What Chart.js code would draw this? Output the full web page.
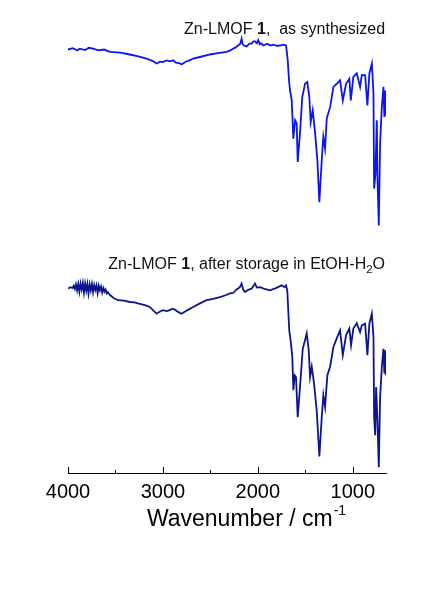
<!DOCTYPE html>
<html>
<head>
<meta charset="utf-8">
<script src="https://cdn.jsdelivr.net/npm/chart.js@4"></script>
<style>
  html, body { margin: 0; padding: 0; background: #fff; }
  canvas { display: block; }
</style>
</head>
<body>
<canvas id="irChart" width="422" height="599"></canvas>
<script>
// FTIR spectra of Zn-LMOF 1, transmittance in arbitrary units (offset traces)
const synthWn = [4000, 3950, 3900, 3877, 3820, 3780, 3736, 3680, 3620, 3560, 3450, 3349, 3260, 3173, 3110, 3067, 3030, 3001, 2960, 2928, 2890, 2864, 2830, 2804, 2760, 2720, 2681, 2600, 2505, 2420, 2329, 2290, 2259, 2230, 2210, 2185, 2171, 2160, 2147, 2118, 2090, 2065, 2045, 2030, 2010, 1996, 1980, 1967, 1943, 1900, 1870, 1837, 1800, 1767, 1730, 1703, 1685, 1672, 1661, 1643, 1626, 1608, 1591, 1580, 1556, 1532, 1503, 1479, 1458, 1443, 1422, 1398, 1373, 1352, 1327, 1310, 1292, 1274, 1239, 1204, 1169, 1134, 1105, 1071, 1036, 1021, 994, 958, 923, 905, 870, 846, 825, 799, 782, 775, 761, 747, 740, 726, 712, 694, 677, 667, 656, 652];
const synthT = [94.1, 94.4, 93.9, 94.3, 94.0, 94.5, 94.3, 93.9, 94.1, 93.6, 93.4, 93.0, 92.6, 92.1, 91.6, 91.0, 91.4, 91.3, 91.7, 91.5, 91.7, 91.2, 91.1, 90.8, 91.4, 91.7, 92.1, 92.5, 93.0, 93.3, 93.6, 93.9, 94.3, 94.6, 95.0, 95.4, 96.5, 95.3, 95.0, 94.8, 95.4, 95.4, 95.9, 95.9, 95.5, 96.2, 95.3, 95.5, 95.0, 95.4, 95.0, 95.2, 94.9, 95.0, 95.2, 95.0, 91.7, 87.3, 85.0, 82.8, 74.3, 78.4, 77.7, 69.1, 75.5, 83.6, 86.5, 86.9, 83.6, 78.0, 80.6, 75.8, 69.5, 60.2, 69.5, 74.7, 72.1, 78.8, 81.3, 85.8, 86.5, 87.3, 82.8, 86.5, 87.6, 82.8, 88.0, 88.8, 85.8, 88.4, 88.4, 81.7, 88.8, 91.0, 84.3, 63.2, 66.5, 78.4, 65.8, 55.0, 73.2, 81.3, 85.8, 79.1, 85.0, 79.4];

const storedWn = [4000, 3970, 3952, 3940, 3928, 3916, 3904, 3892, 3880, 3868, 3856, 3844, 3832, 3820, 3808, 3796, 3784, 3772, 3760, 3748, 3736, 3724, 3712, 3700, 3688, 3676, 3664, 3652, 3640, 3628, 3616, 3604, 3592, 3580, 3560, 3520, 3473, 3410, 3349, 3300, 3244, 3190, 3138, 3100, 3067, 3030, 2998, 2960, 2928, 2900, 2874, 2840, 2804, 2740, 2681, 2610, 2540, 2470, 2400, 2340, 2294, 2260, 2224, 2190, 2171, 2155, 2136, 2100, 2065, 2045, 2030, 2010, 1978, 1930, 1872, 1810, 1749, 1720, 1703, 1690, 1669, 1651, 1637, 1626, 1612, 1598, 1580, 1556, 1527, 1503, 1485, 1464, 1450, 1432, 1408, 1380, 1352, 1327, 1310, 1292, 1268, 1239, 1204, 1169, 1134, 1105, 1071, 1036, 1018, 994, 958, 923, 905, 870, 846, 825, 799, 782, 775, 764, 754, 740, 726, 712, 694, 677, 667, 656, 652];
const storedT = [41.0, 41.3, 41.1, 41.6, 40.9, 41.9, 40.6, 42.0, 40.3, 42.1, 40.8, 42.2, 40.1, 42.1, 40.5, 42.0, 39.9, 41.9, 40.6, 42.0, 40.2, 41.8, 40.7, 41.7, 40.0, 41.6, 40.6, 41.4, 40.1, 41.1, 40.3, 40.8, 39.9, 40.2, 39.6, 38.9, 38.4, 38.3, 38.0, 37.9, 37.6, 37.3, 36.9, 36.1, 35.4, 35.9, 36.2, 36.0, 36.2, 36.5, 36.3, 35.8, 35.4, 36.2, 36.9, 37.7, 38.4, 38.7, 39.1, 39.5, 39.9, 40.0, 40.8, 41.3, 42.1, 40.8, 40.2, 40.7, 41.0, 41.6, 42.1, 41.2, 41.3, 40.9, 40.6, 41.1, 41.7, 41.3, 41.7, 40.6, 31.7, 28.8, 25.8, 18.4, 21.7, 21.3, 12.4, 19.1, 27.6, 29.5, 31.0, 27.3, 21.3, 23.6, 19.9, 13.9, 3.7, 12.4, 17.3, 14.7, 21.7, 23.6, 28.0, 29.9, 31.7, 26.2, 30.6, 32.1, 28.4, 32.1, 33.3, 31.3, 32.8, 33.2, 26.2, 33.2, 35.4, 30.2, 12.4, 8.4, 19.1, 11.7, 1.3, 16.9, 23.6, 27.6, 22.1, 27.3, 21.7];

const majorTicks = [4000, 3000, 2000, 1000];
const minorTicks = [3500, 2500, 1500];

const FONT = '"Liberation Sans", Arial, Helvetica, sans-serif';

function toPoints(wn, t) {
    return wn.map((w, i) => ({ x: w, y: t[i] }));
}

// writes a run of text pieces right-aligned at x; pieces may be bold or subscript
function drawRich(ctx, parts, xRight, yBase, size) {
    let widths = parts.map(p => {
        ctx.font = (p.bold ? 'bold ' : '') + (p.sub ? size * 0.72 : size) + 'px ' + FONT;
        return ctx.measureText(p.t).width;
    });
    let x = xRight - widths.reduce((a, b) => a + b, 0);
    parts.forEach((p, i) => {
        ctx.font = (p.bold ? 'bold ' : '') + (p.sub ? size * 0.72 : size) + 'px ' + FONT;
        ctx.fillText(p.t, x, yBase + (p.sub ? size * 0.28 : 0));
        x += widths[i];
    });
}

const decorations = {
    id: 'decorations',
    afterDraw(chart) {
        const ctx = chart.ctx;
        const xs = chart.scales.x;
        const ys = chart.scales.y;
        const bottom = chart.chartArea.bottom;
        ctx.save();
        // inward tick marks on the wavenumber axis
        ctx.strokeStyle = '#000';
        ctx.lineWidth = 1;
        ctx.beginPath();
        majorTicks.forEach(v => {
            const px = Math.round(xs.getPixelForValue(v)) + 0.5;
            ctx.moveTo(px, bottom);
            ctx.lineTo(px, bottom - 6);
        });
        minorTicks.forEach(v => {
            const px = Math.round(xs.getPixelForValue(v)) + 0.5;
            ctx.moveTo(px, bottom);
            ctx.lineTo(px, bottom - 3);
        });
        ctx.stroke();

        // trace labels
        ctx.fillStyle = '#111';
        ctx.textAlign = 'left';
        ctx.textBaseline = 'alphabetic';
        const xr = xs.getPixelForValue(660);
        drawRich(ctx, [
            { t: 'Zn-LMOF ' }, { t: '1', bold: true }, { t: ',  as synthesized' }
        ], xr, ys.getPixelForValue(97.6), 16);
        drawRich(ctx, [
            { t: 'Zn-LMOF ' }, { t: '1', bold: true }, { t: ', after storage in EtOH-H' },
            { t: '2', sub: true }, { t: 'O' }
        ], xr, ys.getPixelForValue(45.4), 16);

        // axis title with superscript
        ctx.font = '23px ' + FONT;
        const main = 'Wavenumber / cm';
        const wMain = ctx.measureText(main).width;
        ctx.font = '14px ' + FONT;
        const sup = '-1';
        const wSup = ctx.measureText(sup).width;
        const cx = xs.getPixelForValue(2125);
        const x0 = cx - (wMain + wSup) / 2;
        ctx.fillStyle = '#000';
        ctx.font = '23px ' + FONT;
        ctx.fillText(main, x0, bottom + 53);
        ctx.font = '14px ' + FONT;
        ctx.fillText(sup, x0 + wMain + 1, bottom + 42);
        ctx.restore();
    }
};

const chart = new Chart(document.getElementById('irChart').getContext('2d'), {
    type: 'line',
    data: {
        datasets: [
            {
                label: 'as synthesized',
                data: toPoints(synthWn, synthT),
                borderColor: '#0a14f5',
                borderWidth: 1.8,
                pointRadius: 0,
                tension: 0,
                fill: false
            },
            {
                label: 'after storage in EtOH-H2O',
                data: toPoints(storedWn, storedT),
                borderColor: '#0c1490',
                borderWidth: 1.8,
                pointRadius: 0,
                tension: 0,
                fill: false
            }
        ]
    },
    options: {
        responsive: false,
        animation: false,
        layout: { padding: { left: 68, right: 36, top: 23, bottom: 0 } },
        plugins: {
            legend: { display: false },
            tooltip: { enabled: false }
        },
        scales: {
            x: {
                type: 'linear',
                reverse: true,
                min: 650,
                max: 4000,
                afterBuildTicks: (scale) => {
                    scale.ticks = majorTicks.map(v => ({ value: v }));
                },
                afterFit: (scale) => { scale.height = 126; },
                grid: { display: true, drawOnChartArea: false, drawTicks: false },
                border: { display: true, color: '#000', width: 1 },
                ticks: {
                    color: '#000',
                    padding: 7,
                    maxRotation: 0,
                    autoSkip: false,
                    font: { family: FONT, size: 20 },
                    callback: (v) => String(v)
                }
            },
            y: {
                type: 'linear',
                display: false,
                min: 0,
                max: 100
            }
        }
    },
    plugins: [decorations]
});
</script>
</body>
</html>
